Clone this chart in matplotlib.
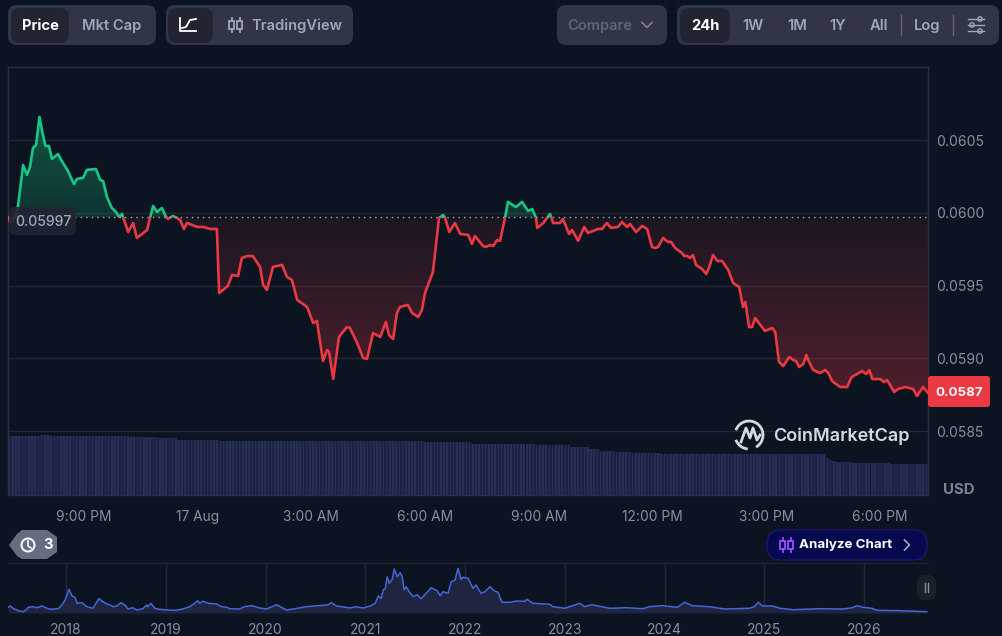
import numpy as np
import matplotlib
matplotlib.use('Agg')
import matplotlib.pyplot as plt
from matplotlib.patches import FancyBboxPatch, Circle, Polygon, Arc, Rectangle

plt.rcParams['font.family'] = ['Inter', 'DejaVu Sans']

# price chart, hours counted from 17 Aug 00:00
HOURS = [-5.00, -4.95, -4.82, -4.74, -4.60, -4.50, -4.42, -4.34, -4.26, -4.17, -4.09, -4.01, -3.92, -3.84, -3.68,
         -3.55, -3.42, -3.26, -3.18, -3.02, -2.92, -2.68, -2.57, -2.49, -2.39, -2.26, -2.15, -2.07, -1.99, -1.94,
         -1.83, -1.70, -1.60, -1.33, -1.28, -1.17, -1.07, -0.94, -0.83, -0.78, -0.65, -0.54, -0.46, -0.36, -0.28,
         -0.01, 0.15, 0.33, 0.51, 0.57, 0.80, 0.91, 1.07, 1.17, 1.31, 1.46, 1.65, 1.73, 1.83, 1.99,
         2.10, 2.23, 2.36, 2.49, 2.63, 2.89, 3.05, 3.15, 3.31, 3.42, 3.47, 3.58, 3.73, 3.94, 4.02,
         4.21, 4.37, 4.47, 4.63, 4.82, 4.97, 5.05, 5.16, 5.26, 5.34, 5.55, 5.66, 5.82, 5.92, 6.00,
         6.21, 6.37, 6.48, 6.53, 6.64, 6.79, 6.93, 7.14, 7.24, 7.32, 7.53, 7.61, 7.72, 7.80, 7.90,
         7.98, 8.06, 8.11, 8.19, 8.40, 8.56, 8.72, 8.83, 8.93, 8.96, 9.12, 9.30, 9.38, 9.56, 9.64,
         9.80, 9.88, 10.04, 10.20, 10.30, 10.57, 10.67, 10.80, 10.91, 11.09, 11.20, 11.33, 11.41, 11.57, 11.73,
         11.86, 11.99, 12.07, 12.15, 12.28, 12.41, 12.49, 12.60, 12.78, 12.84, 12.92, 12.99, 13.07, 13.15, 13.31,
         13.42, 13.50, 13.60, 13.71, 13.84, 14.00, 14.13, 14.29, 14.39, 14.45, 14.55, 14.63, 14.71, 14.97, 15.16,
         15.24, 15.34, 15.45, 15.61, 15.71, 15.79, 15.87, 15.98, 16.06, 16.11, 16.24, 16.42, 16.56, 16.64, 16.74,
         16.95, 17.14, 17.24, 17.30, 17.40, 17.53, 17.64, 17.72, 17.80, 18.01, 18.11, 18.19, 18.38, 18.48, 18.67,
         18.88, 18.98, 19.14, 19.27]

PRICE = [.059966, .059938, .059973, .060041, .060330, .060261, .060316, .060447, .060467, .060660, .060550, .060460, .060460, .060371, .060405,
         .060344, .060289, .060199, .060234, .060241, .060296, .060302, .060227, .060220, .060110, .060034, .060007, .059973, .059993, .059952,
         .059869, .059931, .059828, .059883, .059938, .060048, .060007, .060034, .059973, .059959, .059979, .059966, .059952, .059890, .059931,
         .059904, .059904, .059890, .059890, .059450, .059498, .059574, .059567, .059691, .059704, .059704, .059629, .059505, .059471, .059629,
         .059636, .059643, .059560, .059540, .059402, .059354, .059244, .059258, .058983, .059058, .059045, .058859, .059148, .059216, .059210,
         .059107, .059003, .058997, .059175, .059148, .059251, .059161, .059134, .059313, .059354, .059368, .059313, .059285, .059333, .059450,
         .059594, .059966, .059986, .059966, .059869, .059931, .059856, .059849, .059787, .059842, .059773, .059766, .059780, .059773, .059814,
         .059808, .059904, .059966, .060076, .060041, .060076, .060014, .060027, .059966, .059897, .059931, .059993, .059931, .059931, .059959,
         .059856, .059883, .059808, .059904, .059863, .059890, .059890, .059931, .059897, .059904, .059938, .059904, .059924, .059869, .059911,
         .059890, .059766, .059759, .059766, .059828, .059801, .059801, .059759, .059725, .059704, .059704, .059691, .059711, .059643, .059615,
         .059581, .059629, .059711, .059670, .059670, .059608, .059519, .059491, .059354, .059388, .059216, .059216, .059278, .059189, .059210,
         .059182, .058976, .058948, .059010, .058990, .058983, .058942, .058962, .059024, .058990, .058921, .058900, .058921, .058900, .058845,
         .058804, .058804, .058866, .058880, .058893, .058914, .058893, .058921, .058859, .058859, .058838, .058852, .058770, .058790, .058804,
         .058790, .058742, .058804, .058763]

BASE_PRICE = 0.05997
PRICE_TICKS = [0.0585, 0.0590, 0.0595, 0.0600, 0.0605]
PRICE_LABELS = ['0.0585', '0.0590', '0.0595', '0.0600', '0.0605']
TIME_TICKS = [-3, 0, 3, 6, 9, 12, 15, 18]
TIME_LABELS = ['9:00 PM', '17 Aug', '3:00 AM', '6:00 AM', '9:00 AM', '12:00 PM', '3:00 PM', '6:00 PM']

# volume plateaus, 288 bars in total
VOLUME_LEVELS = [59, 60, 59.5, 59.3, 58.3, 56.7, 55, 54, 52.7, 51, 50, 48.5, 46, 44, 43.5, 42, 41.5, 37, 35, 34, 33.5, 32.5, 31]
VOLUME_COUNTS = [10, 3, 3, 22, 9, 6, 13, 64, 15, 20, 11, 6, 3, 5, 5, 9, 52, 1, 1, 1, 5, 12, 12]

# all time overview
YEARS = [2017.42, 2017.44, 2017.47, 2017.52, 2017.57, 2017.60, 2017.62, 2017.67, 2017.71, 2017.76, 2017.81, 2017.84, 2017.92, 2017.96, 2017.99,
         2018.03, 2018.06, 2018.09, 2018.11, 2018.16, 2018.21, 2018.27, 2018.31, 2018.33, 2018.37, 2018.41, 2018.44, 2018.47, 2018.51, 2018.55,
         2018.59, 2018.62, 2018.67, 2018.71, 2018.77, 2018.81, 2018.82, 2018.85, 2018.89, 2018.94, 2019.01, 2019.11, 2019.18, 2019.24, 2019.28,
         2019.32, 2019.34, 2019.37, 2019.43, 2019.51, 2019.56, 2019.61, 2019.64, 2019.74, 2019.79, 2019.86, 2019.94, 2020.01, 2020.11, 2020.16,
         2020.21, 2020.28, 2020.41, 2020.58, 2020.63, 2020.66, 2020.71, 2020.85, 2020.90, 2020.98, 2021.05, 2021.10, 2021.13, 2021.16, 2021.18,
         2021.20, 2021.22, 2021.24, 2021.27, 2021.29, 2021.32, 2021.35, 2021.37, 2021.39, 2021.41, 2021.44, 2021.48, 2021.52, 2021.56, 2021.62,
         2021.66, 2021.72, 2021.75, 2021.78, 2021.83, 2021.86, 2021.90, 2021.93, 2021.96, 2021.98, 2022.03, 2022.08, 2022.11, 2022.16, 2022.20,
         2022.25, 2022.29, 2022.33, 2022.37, 2022.45, 2022.52, 2022.60, 2022.62, 2022.68, 2022.85, 2022.88, 2023.00, 2023.15, 2023.20, 2023.27,
         2023.45, 2023.62, 2023.78, 2023.85, 2023.98, 2024.13, 2024.20, 2024.28, 2024.45, 2024.60, 2024.85, 2024.90, 2024.94, 2024.98, 2025.08,
         2025.16, 2025.29, 2025.56, 2025.79, 2025.88, 2025.93, 2025.99, 2026.08, 2026.13, 2026.36, 2026.63]

OVERVIEW = [5.7, 7.0, 4.7, 2.3, 1.3, 3.0, 5.7, 6.3, 5.3, 7.0, 4.7, 3.7, 4.3, 8.0, 13.0,
            23.7, 17.0, 15.7, 9.7, 10.3, 6.3, 4.7, 11.3, 14.3, 11.3, 9.0, 8.0, 6.3, 7.0, 10.3,
            8.0, 4.0, 5.3, 3.0, 4.3, 8.0, 6.3, 9.7, 4.7, 3.7, 3.0, 2.7, 4.3, 6.3, 9.0,
            12.3, 9.7, 11.7, 9.7, 9.0, 6.3, 5.7, 4.3, 4.0, 6.3, 7.3, 5.0, 4.0, 8.3, 5.7,
            3.0, 4.0, 6.3, 7.7, 8.3, 10.3, 7.0, 5.0, 6.3, 5.0, 7.0, 9.7, 17.0, 14.7, 23.0,
            24.7, 36.3, 29.7, 33.7, 44.0, 36.3, 40.3, 36.3, 23.0, 26.3, 21.3, 16.3, 18.3, 14.3, 20.7,
            25.3, 22.3, 17.3, 21.3, 19.7, 31.3, 33.0, 44.7, 33.7, 35.7, 34.7, 24.7, 28.0, 19.7, 21.3,
            26.3, 22.3, 20.7, 10.7, 10.7, 12.0, 11.7, 13.7, 9.7, 8.7, 6.3, 4.7, 9.7, 6.3, 8.3,
            4.7, 5.3, 4.3, 6.3, 7.3, 5.7, 10.7, 7.3, 6.3, 4.0, 4.7, 6.3, 10.7, 7.0, 7.0,
            4.7, 3.3, 4.3, 4.0, 5.3, 7.3, 5.7, 4.7, 2.7, 2.3, 1.3]
YEAR_TICKS = [2018, 2019, 2020, 2021, 2022, 2023, 2024, 2025, 2026]

COLOR_BG = '#0d1421'
COLOR_BTN = '#323546'
COLOR_BTN_ON = '#222531'
COLOR_TEXT = '#a1a7bb'
COLOR_AXIS = '#8a8f9f'
COLOR_GRID = '#222836'
COLOR_UP = '#16c784'
COLOR_DOWN = '#ea3943'
WIDTH, HEIGHT = 1002, 636


def axes_from_pixels(fig, left, top, right, bottom):
  return fig.add_axes([left/WIDTH, 1-bottom/HEIGHT, (right-left)/WIDTH, (bottom-top)/HEIGHT])


def gradient_image(ax, rgb, alpha_top, alpha_bottom, extent, clip_path):
  alphas = np.linspace(alpha_top, alpha_bottom, 256)
  pixels = np.zeros((256, 1, 4))
  pixels[:, :, :3] = rgb
  pixels[:, 0, 3] = alphas
  im = ax.imshow(pixels, extent=extent, aspect='auto', origin='upper', zorder=2)
  im.set_clip_path(clip_path, transform=ax.transData)


def draw_price(ax):
  xmin, xmax = -5.0, 19.27
  ymin, ymax = 0.058062, 0.061003

  ax.set_facecolor('none')
  for side in ax.spines.values():
    side.set_color('#2a3040')
    side.set_linewidth(1)

  ax.yaxis.tick_right()
  ax.set_yticks(PRICE_TICKS, PRICE_LABELS)
  ax.set_xticks(TIME_TICKS, TIME_LABELS)
  ax.tick_params(axis='y', length=0, pad=5.5, labelsize=10, labelcolor=COLOR_AXIS)
  ax.tick_params(axis='x', length=0, pad=10.5, labelsize=9.9, labelcolor=COLOR_AXIS)
  ax.grid(axis='y', color=COLOR_GRID, linewidth=1)
  ax.set_axisbelow(True)

  poly = ax.fill_between(HOURS, PRICE, BASE_PRICE, color='none')
  outline = poly.get_paths()[0]
  gradient_image(ax, (0.09, 0.78, 0.52), 0.36, 0.18, (xmin, xmax, BASE_PRICE, 0.06066), outline)
  gradient_image(ax, (0.92, 0.22, 0.26), 0.07, 0.30, (xmin, xmax, 0.05874, BASE_PRICE), outline)

  up, = ax.plot(HOURS, PRICE, color=COLOR_UP, linewidth=1.9, zorder=3, solid_joinstyle='round')
  down, = ax.plot(HOURS, PRICE, color=COLOR_DOWN, linewidth=1.9, zorder=3, solid_joinstyle='round')
  up.set_clip_path(Rectangle((xmin, BASE_PRICE), xmax-xmin, ymax-BASE_PRICE, transform=ax.transData))
  down.set_clip_path(Rectangle((xmin, ymin), xmax-xmin, BASE_PRICE-ymin, transform=ax.transData))

  ax.axhline(BASE_PRICE, color='#a1a7bb', linewidth=1, linestyle=(0, (1, 3)), zorder=3)
  ax.set_xlim(xmin, xmax)
  ax.set_ylim(ymin, ymax)


def draw_volume(vol, xmin, xmax):
  volume = np.repeat(VOLUME_LEVELS, VOLUME_COUNTS)
  step = (xmax-xmin)/len(volume)
  x = xmin + step*(np.arange(len(volume))+0.5)

  vol.bar(x, volume, width=step, color='#1a2342', zorder=1)
  vol.bar(x, volume, width=step*0.5, color='#262f58', zorder=2)
  vol.set_xlim(xmin, xmax)
  vol.set_ylim(0, 428)
  vol.set_axis_off()


def draw_overview(ax):
  ax.set_facecolor('none')
  for name, side in ax.spines.items():
    side.set_visible(name == 'top')
    side.set_color('#222836')
  ax.fill_between(YEARS, OVERVIEW, 0, color='#1f2541', linewidth=0, zorder=2)
  ax.plot(YEARS, OVERVIEW, color='#4168d6', linewidth=1.1, zorder=3)
  ax.set_xticks(YEAR_TICKS, [str(y) for y in YEAR_TICKS])
  ax.set_yticks([])
  ax.tick_params(axis='x', length=0, pad=7, labelsize=10, labelcolor=COLOR_AXIS)
  ax.grid(axis='x', color='#222836', linewidth=1)
  ax.set_axisbelow(True)
  ax.set_xlim(2017.418, 2026.641)
  ax.set_ylim(0, 50)


def box(ui, left, top, right, bottom, color, radius=9, **kwargs):
  ui.add_patch(FancyBboxPatch((left+radius, top+radius), right-left-2*radius, bottom-top-2*radius,
                              boxstyle='round,pad=%d,rounding_size=%d' % (radius, radius),
                              facecolor=color, linewidth=kwargs.pop('linewidth', 0), **kwargs))


def label(ui, x, y, text, color=COLOR_TEXT, size=10.6, weight='semibold', ha='center'):
  ui.text(x, y+1, text, color=color, fontsize=size, fontweight=weight, ha=ha, va='center')


def candle_icon(ui, x, y, color):
  for dx in (-4, 4):
    ui.add_patch(Rectangle((x+dx-2.5, y-4), 5, 8, facecolor='none', edgecolor=color, linewidth=1.3))
    ui.plot([x+dx, x+dx], [y-7, y-4], color=color, linewidth=1.3)
    ui.plot([x+dx, x+dx], [y+4, y+7], color=color, linewidth=1.3)


def chevron(ui, x, y, color, right=False):
  if right:
    ui.plot([x-2.5, x+2.5, x-2.5], [y-5, y, y+5], color=color, linewidth=1.2)
  else:
    ui.plot([x-5, x, x+5], [y-2.5, y+2.5, y-2.5], color=color, linewidth=1.2)


def draw_toolbar(ui):
  box(ui, 8, 5, 156, 45, COLOR_BTN)
  box(ui, 11, 8, 69, 43, COLOR_BTN_ON)
  label(ui, 40, 25, 'Price', color='white', weight='bold')
  label(ui, 112, 25, 'Mkt Cap')

  box(ui, 166, 5, 353, 45, COLOR_BTN)
  box(ui, 168, 8, 213, 43, COLOR_BTN_ON)
  ui.plot([180, 180, 196], [18, 31, 31], color='white', linewidth=1.3)
  ui.plot([182, 186, 190, 196], [28, 27, 20, 19], color='white', linewidth=1.3)
  candle_icon(ui, 236, 25, COLOR_TEXT)
  label(ui, 251, 25, 'TradingView', ha='left')

  box(ui, 557, 5, 667, 45, COLOR_BTN)
  label(ui, 600, 25, 'Compare', color='#5f6578')
  chevron(ui, 647, 25, '#7d8293')

  box(ui, 677, 5, 999, 45, COLOR_BTN)
  box(ui, 680, 8, 730, 43, COLOR_BTN_ON)
  label(ui, 705, 25, '24h', color='white', weight='bold')
  for x, text in [(753, '1W'), (797, '1M'), (838, '1Y'), (879, 'All'), (927, 'Log')]:
    label(ui, x, 25, text)
  for x in (901, 953):
    ui.plot([x, x], [15, 35], color='#5f6578', linewidth=1)
  for y, dot in [(19, 980), (25, 972), (31, 980)]:
    ui.plot([968, 984], [y, y], color=COLOR_TEXT, linewidth=1)
    ui.add_patch(Circle((dot, y), 2.2, facecolor=COLOR_BTN, edgecolor=COLOR_TEXT, linewidth=1))


def draw_overlays(ui):
  box(ui, 9, 207, 76, 235, '#222531', radius=6, alpha=0.9)
  label(ui, 43, 220.5, '0.05997', size=10.1, weight='medium')
  box(ui, 928, 376, 990, 407, COLOR_DOWN, radius=3)
  label(ui, 959, 391.5, '0.0587', color='white', size=9.6, weight='bold')
  label(ui, 959, 489.5, 'USD', color='#7d8293', size=10.8, weight='bold')

  # watermark
  ui.add_patch(Arc((749, 435), 28, 28, theta1=-160, theta2=60, color='#d5d8e0', linewidth=2))
  ui.add_patch(Arc((749, 435), 28, 28, theta1=95, theta2=160, color='#d5d8e0', linewidth=2))
  ui.plot([741, 746, 750, 753, 757, 760], [442, 428, 438, 428, 440, 435], color='#d5d8e0', linewidth=2)
  label(ui, 773, 435, 'CoinMarketCap', color='#d5d8e0', size=13, ha='left')

  # alerts badge
  ui.add_patch(Polygon([(9, 545), (17, 534), (22, 530), (47, 530), (57, 537), (57, 552), (47, 559), (22, 559), (17, 556)],
                       facecolor='#676c80', linewidth=0))
  ui.add_patch(Circle((28, 545), 6.5, facecolor='none', edgecolor='white', linewidth=1.4))
  ui.plot([28, 28, 31], [541, 546, 548], color='white', linewidth=1.2)
  label(ui, 48, 544, '3', color='white', weight='bold')

  # analyze button
  box(ui, 767, 530, 927, 560, '#050a4f', radius=14, edgecolor='#20146f', linewidth=1)
  candle_icon(ui, 787, 545, '#9a4dff')
  label(ui, 799, 544, 'Analyze Chart', color='white', size=9.6, weight='bold', ha='left')
  chevron(ui, 907, 545, COLOR_TEXT, right=True)

  # overview handle
  box(ui, 917, 575, 936, 600, '#1c2029', radius=8)
  for x in (925, 928):
    ui.plot([x, x], [583, 592], color='#8a8f9f', linewidth=1)


fig = plt.figure(figsize=(WIDTH/100, HEIGHT/100), dpi=100, facecolor=COLOR_BG)

ax_volume = axes_from_pixels(fig, 8, 67, 928, 495)
draw_volume(ax_volume, -5.0, 19.27)

ax_price = axes_from_pixels(fig, 8, 67, 928, 495)
draw_price(ax_price)

ax_overview = axes_from_pixels(fig, 8, 563, 928, 613)
draw_overview(ax_overview)

ui = fig.add_axes([0, 0, 1, 1], zorder=10)
ui.set_xlim(0, WIDTH)
ui.set_ylim(HEIGHT, 0)
ui.set_axis_off()
draw_toolbar(ui)
draw_overlays(ui)

fig.savefig('out.png', dpi=100, facecolor=COLOR_BG)
